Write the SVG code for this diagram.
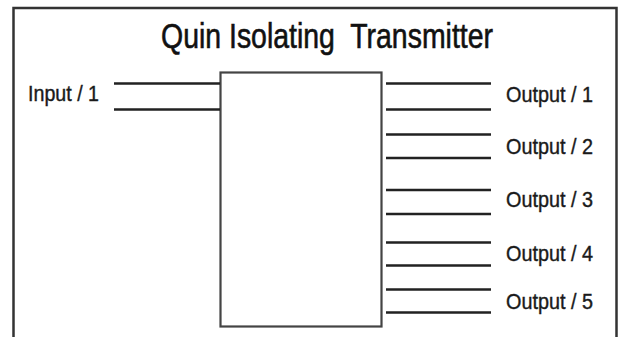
<svg xmlns="http://www.w3.org/2000/svg" width="621" height="337" viewBox="0 0 621 337">
<style>
.lbl{font-family:"Liberation Sans",Arial,sans-serif;font-size:22px;fill:#1a1a1a;stroke:#1a1a1a;stroke-width:0.4}
.ttl{font-family:"Liberation Sans",Arial,sans-serif;font-size:35px;fill:#111;stroke:#111;stroke-width:0.6;white-space:pre}
.wire{stroke:#222;stroke-width:2.4;fill:none}
.frame{stroke:#333;stroke-width:2.5;fill:none}
</style>
<rect width="621" height="337" fill="#fff"/>
<path class="frame" d="M13.5,340 V8 H616.5 V340"/>
<text class="ttl" x="161" y="48" textLength="332" lengthAdjust="spacingAndGlyphs" xml:space="preserve">Quin Isolating  Transmitter</text>
<g id="transmitter">
<rect x="220.5" y="72.5" width="161" height="254" fill="#fff" stroke="#444" stroke-width="2.2"/>
</g>
<g id="input1">
<text class="lbl" x="28" y="101" textLength="71" lengthAdjust="spacingAndGlyphs">Input / 1</text>
</g>
<g id="output1"><text class="lbl" x="506" y="102" textLength="87" lengthAdjust="spacingAndGlyphs">Output / 1</text></g>
<g id="output2"><text class="lbl" x="506" y="154" textLength="87" lengthAdjust="spacingAndGlyphs">Output / 2</text></g>
<g id="output3"><text class="lbl" x="506" y="207" textLength="87" lengthAdjust="spacingAndGlyphs">Output / 3</text></g>
<g id="output4"><text class="lbl" x="506" y="261" textLength="87" lengthAdjust="spacingAndGlyphs">Output / 4</text></g>
<g id="output5"><text class="lbl" x="506" y="309" textLength="87" lengthAdjust="spacingAndGlyphs">Output / 5</text></g>
<g id="connectors">
<path class="wire" d="M114,83.5 H220 M114,109.5 H220"/>
<path class="wire" d="M386,83.5 H491 M386,109.5 H491"/>
<path class="wire" d="M386,134.5 H491 M386,158 H491"/>
<path class="wire" d="M386,190 H491 M386,214 H491"/>
<path class="wire" d="M386,242.5 H491 M386,265.5 H491"/>
<path class="wire" d="M386,289.5 H491 M386,312.5 H491"/>
</g>
</svg>
